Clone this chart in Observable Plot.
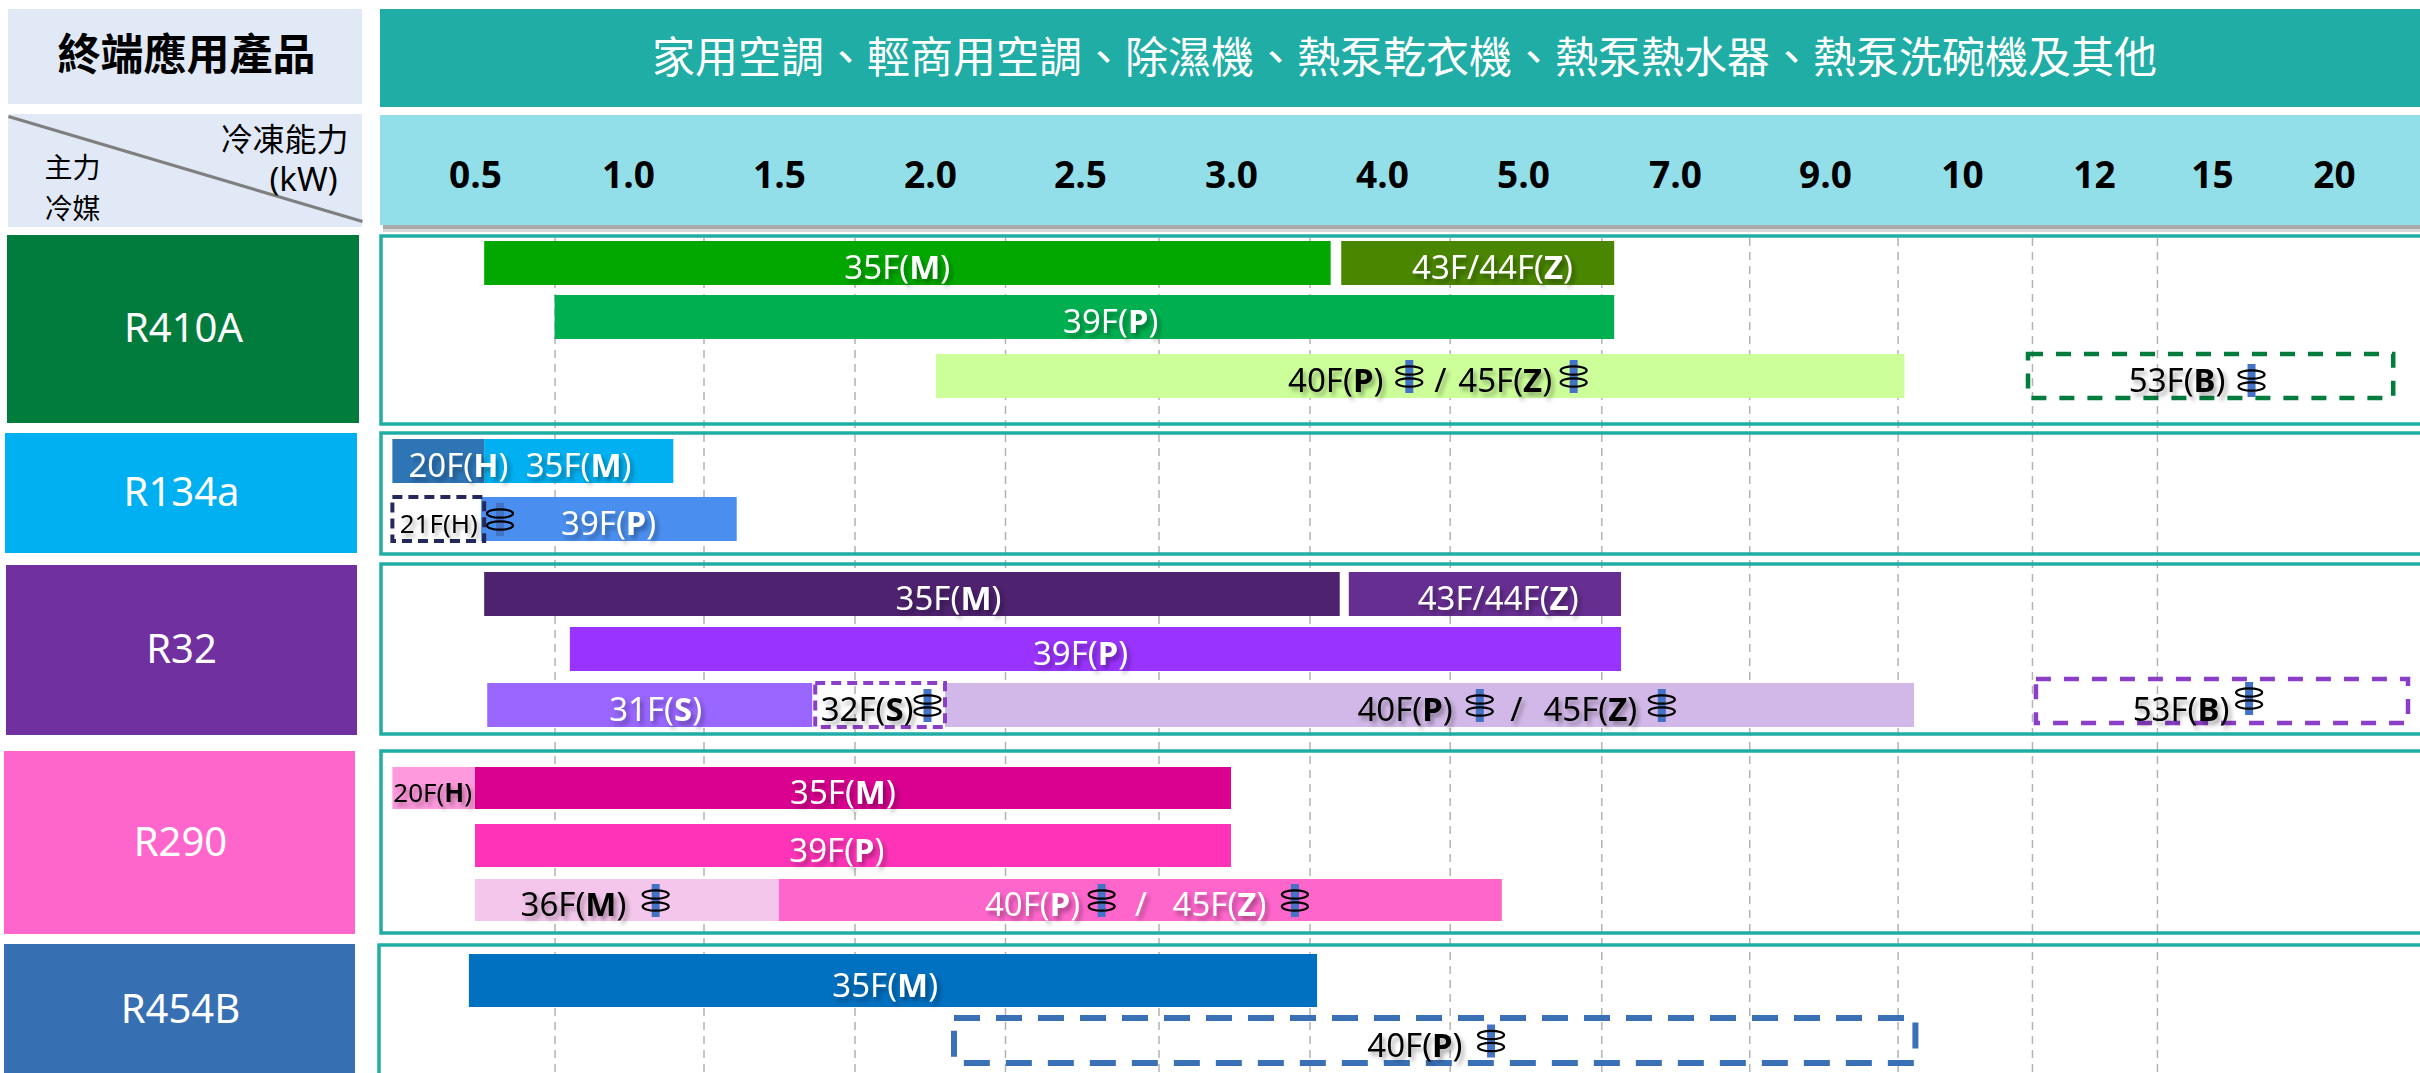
<!DOCTYPE html>
<html lang="zh-Hant">
<head>
<meta charset="utf-8">
<title>終端應用產品</title>
<script src="https://cdn.jsdelivr.net/npm/d3@7"></script>
<script src="https://cdn.jsdelivr.net/npm/@observablehq/plot@0.6"></script>
<style>
  html, body { margin: 0; padding: 0; background: #fff; overflow: hidden; }
  .soft-shadow { filter: drop-shadow(3px 4px 2px rgba(0,0,0,.32)); }
</style>
</head>
<body>
<div id="chart"></div>
<script>
// ---------- values ----------
const productRow = "家用空調、輕商用空調、除濕機、熱泵乾衣機、熱泵熱水器、熱泵洗碗機及其他";
const cornerTitle = "終端應用產品";
const refrigerants = ["R410A", "R134a", "R32", "R290", "R454B"];

// capacity axis (kW): labelled positions and the dashed dividers between them
const capacityTicks  = [0.5, 1, 1.5, 2, 2.5, 3, 4, 5, 7, 9, 10, 12, 15, 20];
const capacityLabels = ["0.5","1.0","1.5","2.0","2.5","3.0","4.0","5.0","7.0","9.0","10","12","15","20"];
const capacityDividers = [0.76, 1.25, 1.75, 2.25, 2.76, 3.52, 4.48, 6.03, 7.99, 9.53, 11.06, 13.6];

// solid ranges: [id, lane, from kW, to kW]
const r410aBars = [["R410A 35F", 0, 0.53, 3.66], ["R410A 43F", 0, 3.73, 6.2], ["R410A 39F", 1, 0.76, 6.2], ["R410A 40F", 2, 2.02, 9.58]];
const r134aBars = [["R134a 20F", 3, 0.23, 0.53], ["R134a 35F", 3, 0.53, 1.15], ["R134a 39F", 4, 0.52, 1.36]];
const r32Bars   = [["R32 35F", 5, 0.53, 3.72], ["R32 43F", 5, 3.78, 6.29], ["R32 39F", 6, 0.81, 6.29], ["R32 31F", 7, 0.54, 1.61], ["R32 40F", 7, 2.05, 9.65]];
const r290Bars  = [["R290 20F", 8, 0.23, 0.5], ["R290 35F", 8, 0.5, 3], ["R290 39F", 9, 0.5, 3], ["R290 36F", 10, 0.5, 1.5], ["R290 40F", 10, 1.5, 4.85]];
const r454bBars = [["R454B 35F", 11, 0.48, 3.57]];

// dashed ranges (planned): [id, lane, from kW, to kW]
const plannedShort = [["R134a 21F", 4, 0.23, 0.53], ["R32 32F", 7, 1.62, 2.05]];
const plannedLong = [["R410A 53F", 2, 11.0, 22.4]];
const plannedRaised = [["R32 53F", 7, 11.12, 23.0]];
const plannedWide = [["R454B 40F", 12, 2.08, 9.66]];

// labels on the bars: [text, lane, kW]
const lightLabels = [
  ["35F(M)", 0, 1.89], ["43F/44F(Z)", 0, 4.78], ["39F(P)", 1, 2.6],
  ["20F(H)", 3, 0.444], ["35F(M)", 3, 0.837], ["39F(P)", 4, 0.935],
  ["35F(M)", 5, 2.06], ["43F/44F(Z)", 5, 4.82], ["39F(P)", 6, 2.5], ["31F(S)", 7, 1.09],
  ["35F(M)", 8, 1.71], ["39F(P)", 9, 1.69], ["40F(P)", 10, 2.34], ["/", 10, 2.7], ["45F(Z)", 10, 2.96],
  ["35F(M)", 11, 1.85]
];
const darkLabels = [
  ["40F(P)", 2, 3.69], ["/", 2, 4.41], ["45F(Z)", 2, 4.87], ["53F(B)", 2, 14.1],
  ["32F(S)", 7, 1.79], ["40F(P)", 7, 4.16], ["/", 7, 4.95], ["45F(Z)", 7, 5.88], ["53F(B)", 7, 14.2],
  ["36F(M)", 10, 0.82], ["40F(P)", 12, 4.23]
];
const smallLabels = [["21F(H)", 4, 0.38], ["20F(H)", 8, 0.36]];

// inverter markers: [lane, kW]
const inverterMarks = [[2, 4.19], [2, 5.66], [4, 0.58], [7, 1.99], [7, 4.69], [7, 6.82], [10, 1.09], [10, 2.57], [10, 3.42], [12, 4.77]];
const inverterMarksLow = [[2, 16.6]];
const inverterMarksHigh = [[7, 16.5]];

// ---------- colours ----------
const barColors = {
  "R410A 35F": "#02a800", "R410A 43F": "#4a8600", "R410A 39F": "#00b050", "R410A 40F": "#ccff99",
  "R134a 20F": "#2e75b6", "R134a 35F": "#00b0f0", "R134a 39F": "#4a8ff0",
  "R32 35F": "#4e226f", "R32 43F": "#672e91", "R32 39F": "#9933ff", "R32 31F": "#9966ff", "R32 40F": "#d2b8e8",
  "R290 20F": "#ff99dd", "R290 35F": "#da0090", "R290 39F": "#ff33b8", "R290 36F": "#f5c6ec", "R290 40F": "#ff66cc",
  "R454B 35F": "#0070c0"
};
const plannedColors = {
  "R410A 53F": "#027c3c", "R134a 21F": "#24285c", "R32 32F": "#8b3fc8", "R32 53F": "#8b3fc8", "R454B 40F": "#3a70b5"
};
const refrigerantColors = ["#027c3c", "#00b0f0", "#7030a0", "#ff66cc", "#376fb3"];

// ---------- layout (scale ranges and table furniture, in page pixels) ----------
const W = 2420, H = 1073;
const capacityPixels = [391, 475, 628, 779, 930, 1080, 1231, 1382, 1523, 1675, 1825, 1962, 2094, 2212, 2334, 2408];
const laneTops    = [241, 295, 354, 439, 497, 572, 627, 683, 767, 824, 879, 954, 1018];
const laneBottoms = [285, 339, 398, 483, 541, 616, 671, 727, 809, 867, 921, 1007, 1063];
const laneHalf = 0.4;
const capacityDomain = [0.2255, ...capacityTicks, 23.0];
const laneDomain = laneTops.flatMap((_, i) => [i - laneHalf, i + laneHalf]);
const laneRange = laneTops.flatMap((t, i) => [t, laneBottoms[i]]);

const cellBoxes = [
  [8, 9, 362, 104, "#e1e9f6"], [380, 9, 2440, 107, "#20ada5"],
  [8, 114, 362, 227, "#e1e9f6"],
  [383, 225, 2440, 232, "#d8d8d8"], [383, 225, 2440, 229, "#a9a9a9"],
  [380, 115, 2440, 225, "#92dfe9"],
  [7, 235, 359, 423, refrigerantColors[0]], [5, 433, 357, 553, refrigerantColors[1]],
  [6, 565, 357, 735, refrigerantColors[2]], [4, 751, 355, 934, refrigerantColors[3]],
  [4, 944, 355, 1090, refrigerantColors[4]]
];
const panelBoxes = [[381, 236, 2445, 424], [381, 433, 2445, 554], [381, 564, 2445, 734], [381, 751, 2445, 933], [379, 945, 2445, 1100]];
const refrigerantLabelSpots = [[183, 329], [181, 493], [181, 650], [180, 843], [180, 1010]];

// ---------- helpers ----------
const asBar = ([id, lane, lo, hi]) => ({id, lane, lo, hi});
const asLabel = ([text, lane, kw]) => ({text, lane, kw});
const solid = [...r410aBars, ...r134aBars, ...r32Bars, ...r290Bars, ...r454bBars].map(asBar);
const px = (f) => ({value: f, scale: null});
const latin = "'Noto Sans','Noto Sans CJK TC',sans-serif";
const cjk = "'Noto Sans CJK TC','Noto Sans',sans-serif";

// inverter symbol: blue spindle and two black rings, as d3 symbol types
const ellipsePath = (c, cy, rx, ry) => {
  const k = 0.5523;
  c.moveTo(-rx, cy);
  c.bezierCurveTo(-rx, cy - k * ry, -k * rx, cy - ry, 0, cy - ry);
  c.bezierCurveTo(k * rx, cy - ry, rx, cy - k * ry, rx, cy);
  c.bezierCurveTo(rx, cy + k * ry, k * rx, cy + ry, 0, cy + ry);
  c.bezierCurveTo(-k * rx, cy + ry, -rx, cy + k * ry, -rx, cy);
  c.closePath();
};
const spindle = {draw(c) { c.moveTo(-4, -16.5); c.lineTo(4, -16.5); c.lineTo(4, 16.5); c.lineTo(-4, 16.5); c.closePath(); }};
const rings = {draw(c) { ellipsePath(c, -6, 13, 4.2); ellipsePath(c, 6, 13, 4.2); }};

const inverterLayer = (rows, dy) => [
  Plot.dot(rows, {x: d => d[1], y: d => d[0], symbol: spindle, r: 5, fill: "#4472c4", stroke: "none", dy}),
  Plot.dot(rows, {x: d => d[1], y: d => d[0], symbol: rings, r: 5, fill: "none", stroke: "#000", strokeWidth: 2.2, dy})
];
const labelLayer = (rows, fill, fontSize, cls) => Plot.text(rows.map(asLabel), {
  x: "kw", y: "lane", text: "text", fill, fontSize, fontFamily: latin, dy: 5,
  className: cls, lineAnchor: "middle", textAnchor: "middle"
});
const plannedLayer = (rows, strokeWidth, strokeDasharray, dy = 0) => Plot.rect(rows.map(asBar), {
  x1: "lo", x2: "hi", y1: d => d.lane - laneHalf, y2: d => d.lane + laneHalf, dy,
  fill: "none", stroke: d => plannedColors[d.id], strokeWidth, strokeDasharray
});

const chart = Plot.plot({
  width: W, height: H,
  margin: 0,
  style: {background: "transparent", overflow: "hidden"},
  x: {type: "linear", domain: capacityDomain, range: capacityPixels, label: null},
  y: {type: "linear", domain: laneDomain, range: laneRange, label: null, axis: null},
  color: {type: "identity"},
  marks: [
    // table furniture
    Plot.rect(cellBoxes, {x1: px(d => d[0]), y1: px(d => d[1]), x2: px(d => d[2]), y2: px(d => d[3]), fill: d => d[4]}),
    Plot.link([0], {x1: px(() => 8), y1: px(() => 116), x2: px(() => 362), y2: px(() => 221), stroke: "#7f7f7f", strokeWidth: 3}),

    // dashed dividers between the capacity classes
    Plot.ruleX(capacityDividers, {x: d => d, y1: px(() => 238), y2: px(() => H), stroke: "#b3b3b3", strokeWidth: 1.5, strokeDasharray: "8 6"}),

    // refrigerant panels
    Plot.rect(panelBoxes, {x1: px(d => d[0]), y1: px(d => d[1]), x2: px(d => d[2]), y2: px(d => d[3]), fill: "none", stroke: "#20ada5", strokeWidth: 3.5}),

    // capacity ranges
    Plot.rect(solid, {x1: "lo", x2: "hi", y1: d => d.lane - laneHalf, y2: d => d.lane + laneHalf, fill: d => barColors[d.id]}),
    plannedLayer(plannedShort, 4, "10 6"),
    plannedLayer(plannedLong, 4.5, "15 13"),
    plannedLayer(plannedRaised, 4.5, "15 13", -4),
    plannedLayer(plannedWide, 6, "26 16"),

    // labels
    labelLayer(lightLabels, "#fff", 33, "soft-shadow bar-label"),
    labelLayer(darkLabels, "#000", 33, "soft-shadow bar-label"),
    labelLayer(smallLabels, "#000", 26, "soft-shadow bar-label"),
    ...inverterLayer(inverterMarks, 0),
    ...inverterLayer(inverterMarksLow, 4),
    ...inverterLayer(inverterMarksHigh, -7),

    // capacity axis
    Plot.axisX(capacityTicks, {
      anchor: "top", label: null, tickSize: 0, tickPadding: -187,
      tickFormat: d => capacityLabels[capacityTicks.indexOf(d)],
      fontSize: 37, fontWeight: 700, fontFamily: "'Open Sans',sans-serif", fill: "#000"
    }),

    // table text
    Plot.text([productRow], {x: px(() => 1404), y: px(() => 59), text: d => d, fill: "#fff", fontSize: 43, fontFamily: cjk}),
    Plot.text([cornerTitle], {x: px(() => 186), y: px(() => 56), text: d => d, fill: "#000", fontSize: 43, fontWeight: 700, fontFamily: cjk}),
    Plot.text(["主力\n冷媒"], {x: px(() => 72), y: px(() => 184.5), text: d => d, fill: "#000", fontSize: 28, lineHeight: 1.46, fontFamily: cjk}),
    Plot.text(["冷凍能力"], {x: px(() => 284), y: px(() => 140), text: d => d, fill: "#000", fontSize: 32, fontFamily: cjk}),
    Plot.text(["(kW)"], {x: px(() => 303), y: px(() => 180), text: d => d, fill: "#000", fontSize: 33, fontFamily: latin}),
    Plot.text(refrigerants, {
      x: px((d, i) => refrigerantLabelSpots[i][0]), y: px((d, i) => refrigerantLabelSpots[i][1]),
      text: d => d, fill: "#fff", fontSize: 40, fontFamily: latin
    })
  ]
});
document.getElementById("chart").appendChild(chart);

// bold the class letter inside the brackets, as in the reference
d3.select(chart).selectAll(".bar-label text").each(function () {
  const t = this.textContent;
  const m = /^(.*\()(.)(\))$/.exec(t);
  if (!m || t === "21F(H)") return;
  const sel = d3.select(this).text(null);
  sel.append("tspan").text(m[1]);
  sel.append("tspan").attr("font-weight", 700).text(m[2]);
  sel.append("tspan").text(m[3]);
});
</script>
</body>
</html>
